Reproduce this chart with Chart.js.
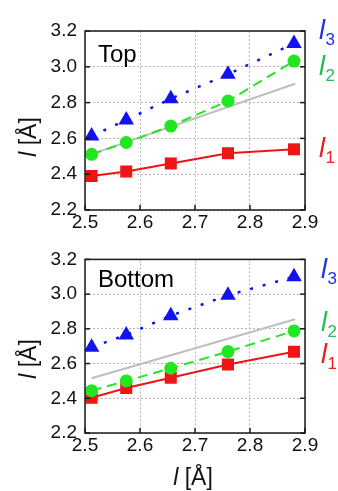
<!DOCTYPE html>
<html><head><meta charset="utf-8">
<script src="https://cdn.jsdelivr.net/npm/chart.js@4"></script>
<style>
html,body{margin:0;padding:0;background:#fff;}
#wrap{position:relative;width:338px;height:491px;overflow:hidden;background:#fff;}
canvas{position:absolute;left:0;}
#cTop{top:0;} #cBot{top:240px;}
</style></head><body>
<div id="wrap"><canvas id="cTop" width="338" height="240"></canvas><canvas id="cBot" width="338" height="251"></canvas></div>
<script>
// ---- data ----
const xValues = [2.512, 2.575, 2.656, 2.760, 2.880];
const topL1 = [2.390, 2.415, 2.460, 2.517, 2.539];
const topL2 = [2.511, 2.577, 2.669, 2.809, 3.032];
const topL3 = [2.613, 2.703, 2.822, 2.958, 3.130];
const topRefX = [2.512, 2.882];
const topRefY = [2.512, 2.905];
const botL1 = [2.403, 2.459, 2.518, 2.595, 2.668];
const botL2 = [2.444, 2.500, 2.573, 2.669, 2.788];
const botL3 = [2.694, 2.765, 2.876, 2.993, 3.100];
const botRefX = [2.512, 2.882];
const botRefY = [2.515, 2.855];
const xTicks = [2.5, 2.6, 2.7, 2.8, 2.9];
const yTicks = [2.2, 2.4, 2.6, 2.8, 3.0, 3.2];
const panelNames = ['Top', 'Bottom'];
const seriesSubs = ['1', '2', '3'];
const axisLetter = 'l';
const axisUnit = ' [Å]';

const FONT = '"Liberation Sans", Arial, sans-serif';
Chart.defaults.font.family = FONT;

const C_RED = '#f01414', C_GREEN = '#22e622', C_BLUE = '#1212f0', C_GRAY = '#bebebe';
const T_RED = '#ee1c1c', T_GREEN = '#20bf52', T_BLUE = '#2030e6';

function pts(xs, ys) { return xs.map((x, i) => ({x: x, y: ys[i]})); }

function makeDatasets(l1, l2, l3, rx, ry) {
  return [
    {data: pts(rx, ry), borderColor: C_GRAY, borderWidth: 2, pointRadius: 0, order: 4},
    {data: pts(xValues, l1), borderColor: C_RED, backgroundColor: C_RED, borderWidth: 2,
     pointStyle: 'rect', pointRadius: 8.5, pointBorderWidth: 0, order: 3},
    {data: pts(xValues, l2), borderColor: C_GREEN, backgroundColor: C_GREEN, borderWidth: 2,
     borderDash: [10, 6], pointStyle: 'circle', pointRadius: 6.5, pointBorderWidth: 0, order: 2},
    {data: pts(xValues, l3), borderColor: C_BLUE, backgroundColor: C_BLUE, borderWidth: 2.5,
     borderDash: [3, 10], pointStyle: 'triangle', pointRadius: 9, pointBorderWidth: 0, order: 1}
  ];
}

function makeScales(xH) {
  return {
    x: {type: 'linear', min: 2.5, max: 2.9,
        afterBuildTicks: s => { s.ticks = xTicks.map(v => ({value: v})); },
        afterFit: s => { s.height = xH; },
        grid: {color: '#b4b4b4', lineWidth: 1, drawTicks: false},
        border: {display: false, dash: [2, 2]},
        ticks: {font: {size: 19}, color: '#111', padding: 1, maxRotation: 0,
                callback: v => Number(v).toFixed(1)}},
    y: {type: 'linear', min: 2.2, max: 3.2,
        afterBuildTicks: s => { s.ticks = yTicks.map(v => ({value: v})); },
        afterFit: s => { s.width = 85; },
        grid: {color: '#b4b4b4', lineWidth: 1, drawTicks: false},
        border: {display: false, dash: [2, 2]},
        ticks: {font: {size: 19}, color: '#111', padding: 8,
                callback: v => Number(v).toFixed(1)}}
  };
}

function drawAxisTitle(ctx, cx, cy, rotate) {
  ctx.save();
  ctx.translate(cx, cy);
  if (rotate) ctx.rotate(-Math.PI / 2);
  ctx.fillStyle = '#111';
  ctx.textBaseline = 'alphabetic';
  ctx.textAlign = 'left';
  ctx.font = 'italic 23px ' + FONT;
  const w1 = ctx.measureText(axisLetter).width;
  ctx.font = '23px ' + FONT;
  const w2 = ctx.measureText(axisUnit).width;
  const x0 = -(w1 + w2) / 2;
  ctx.font = 'italic 23px ' + FONT;
  ctx.fillText(axisLetter, x0, 0);
  ctx.font = '23px ' + FONT;
  ctx.fillText(axisUnit, x0 + w1, 0);
  ctx.restore();
}

const decor = {
  id: 'decor',
  afterDraw(chart, args, opts) {
    const {ctx, chartArea: a} = chart;
    const x = chart.scales.x, y = chart.scales.y;
    ctx.save();
    ctx.strokeStyle = '#1a1a1a';
    ctx.lineWidth = 1.5;
    ctx.setLineDash([]);
    xTicks.forEach(v => {
      const px = x.getPixelForValue(v);
      ctx.beginPath(); ctx.moveTo(px, a.bottom); ctx.lineTo(px, a.bottom - 5); ctx.stroke();
    });
    yTicks.forEach(v => {
      const py = y.getPixelForValue(v);
      ctx.beginPath(); ctx.moveTo(a.left, py); ctx.lineTo(a.left + 5, py); ctx.stroke();
      ctx.beginPath(); ctx.moveTo(a.right, py); ctx.lineTo(a.right - 5, py); ctx.stroke();
    });
    ctx.strokeRect(a.left, a.top, a.right - a.left, a.bottom - a.top);
    // panel name
    ctx.fillStyle = '#000';
    ctx.textAlign = 'left';
    ctx.textBaseline = 'alphabetic';
    ctx.font = '24px ' + FONT;
    ctx.fillText(opts.name, opts.nameX, opts.nameY);
    // series labels
    opts.labels.forEach(s => {
      ctx.fillStyle = s.color;
      ctx.font = 'italic 27px ' + FONT;
      ctx.fillText(axisLetter, s.x, s.y);
      const w = ctx.measureText(axisLetter).width;
      ctx.font = '17px ' + FONT;
      ctx.fillText(s.sub, s.x + w + 0.5, s.y + 6);
    });
    ctx.restore();
    drawAxisTitle(ctx, 36, opts.yTitleY, true);
    if (opts.xTitle) drawAxisTitle(ctx, 193, opts.xTitleY, false);
  }
};

function makeChart(id, datasets, padTop, xH, decorOpts) {
  return new Chart(document.getElementById(id), {
    type: 'line',
    data: {datasets: datasets},
    options: {
      responsive: false, animation: false, devicePixelRatio: 1,
      layout: {padding: {top: padTop, right: 33, left: 0, bottom: 0}},
      scales: makeScales(xH),
      plugins: {legend: {display: false}, tooltip: {enabled: false}, decor: decorOpts},
      elements: {line: {tension: 0}}
    },
    plugins: [decor]
  });
}

makeChart('cTop', makeDatasets(topL1, topL2, topL3, topRefX, topRefY), 31, 30, {
  name: panelNames[0], nameX: 98, nameY: 61.5,
  labels: [
    {sub: seriesSubs[2], color: T_BLUE, x: 319, y: 38.5},
    {sub: seriesSubs[1], color: T_GREEN, x: 319, y: 75},
    {sub: seriesSubs[0], color: T_RED, x: 319, y: 157}
  ],
  yTitleY: 137, xTitle: false
});

makeChart('cBot', makeDatasets(botL1, botL2, botL3, botRefX, botRefY), 14, 58, {
  name: panelNames[1], nameX: 98, nameY: 47,
  labels: [
    {sub: seriesSubs[2], color: T_BLUE, x: 321, y: 38},
    {sub: seriesSubs[1], color: T_GREEN, x: 321, y: 91},
    {sub: seriesSubs[0], color: T_RED, x: 321, y: 123}
  ],
  yTitleY: 119, xTitle: true, xTitleY: 245
});
</script>
</body></html>
